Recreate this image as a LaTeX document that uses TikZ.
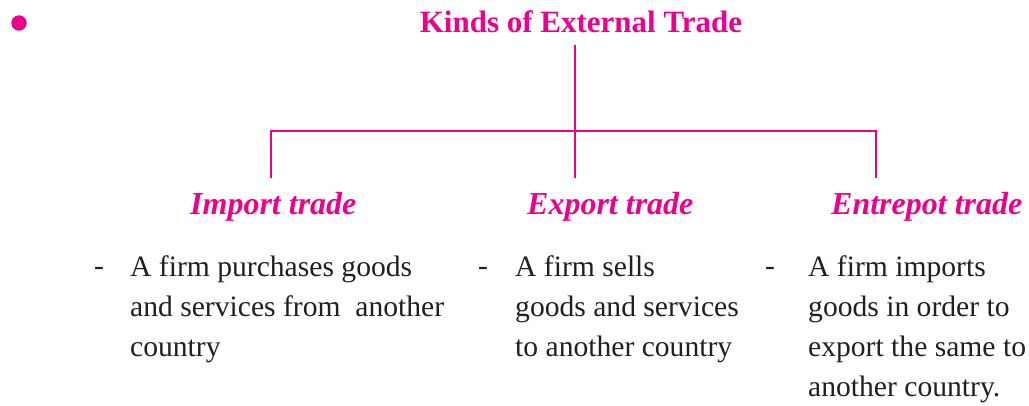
\documentclass[tikz,border=0pt]{standalone}
\usepackage{fontspec}
\setmainfont{Liberation Serif}
\definecolor{mag}{HTML}{EC008C}
\definecolor{txt}{HTML}{231F20}
\begin{document}
\begin{tikzpicture}[x=1pt,y=-1pt,
  conn/.style={draw=mag,line width=2pt},
  title/.style={text=mag,font=\fontsize{31}{36}\selectfont\bfseries,inner sep=0pt,anchor=base},
  kind/.style={text=mag,font=\fontsize{32}{36}\selectfont\bfseries\itshape,inner sep=0pt,anchor=base west},
  body/.style={text=txt,font=\fontsize{29.6}{40}\selectfont,inner sep=0pt,anchor=base west,align=left},
  dashm/.style={text=txt,font=\fontsize{29.6}{40}\selectfont,inner sep=0pt,anchor=base west}]
\useasboundingbox (0,0) rectangle (1029,406);
\fill[mag] (19,23) circle (7.7);
\node[title] (t) at (581,33) {Kinds of External Trade};
\node[kind] (imp) at (190,215) {Import trade};
\node[kind] (exp) at (527,215) {Export trade};
\node[kind] (ent) at (831,215) {Entrepot trade};
\coordinate (top) at (575,45);
\coordinate (mid) at (575,131.5);
\coordinate (lj) at (271,131.5);
\coordinate (rj) at (876,131.5);
\coordinate (le) at (271,178);
\coordinate (me) at (575,178);
\coordinate (re) at (876,178);
\draw[conn] (top) -- (me);
\draw[conn] (le) -- (lj) -- (rj) -- (re);
\node[dashm] (d1) at (94,276) {-};
\node[dashm] (d2) at (478,276) {-};
\node[dashm] (d3) at (765,276) {-};
\node[body] (b1) at (130,356) {A firm purchases goods\\and services from~ another\\country};
\node[body] (b2) at (515,356) {A firm sells\\goods and services\\to another country};
\node[body] (b3) at (808,396) {A firm imports\\goods in order to\\export the same to\\another country.};
\end{tikzpicture}
\end{document}
